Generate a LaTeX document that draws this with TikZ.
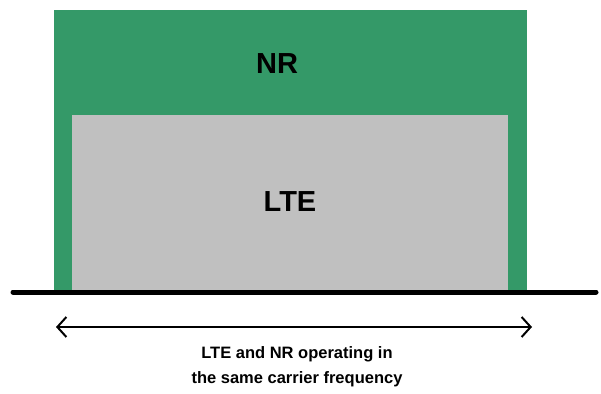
\documentclass[tikz,border=0pt]{standalone}
\usepackage{fontspec}
\setmainfont{Liberation Sans}
\usetikzlibrary{arrows.meta}
\definecolor{nrgreen}{RGB}{52,153,104}
\definecolor{ltegray}{RGB}{192,192,192}
\tikzset{
  band/.style={draw=none, inner sep=0pt, anchor=north west},
  label/.style={font=\bfseries\fontsize{29}{34}\selectfont, text=black},
  caption/.style={font=\bfseries\fontsize{16.5}{25}\selectfont, align=center, text=black},
  ground/.style={line width=5pt, line cap=round},
  span/.style={line width=2pt, {Straight Barb[length=9pt,width=20pt,line width=2pt]}-{Straight Barb[length=9pt,width=20pt,line width=2pt]}}
}
\begin{document}
\begin{tikzpicture}[x=1pt,y=-1pt]
\useasboundingbox (0,0) rectangle (601,393);
% NR carrier and the LTE carrier nested inside it
\node[band, fill=nrgreen, minimum width=473pt, minimum height=283pt] (nr) at (54,10) {};
\node[band, fill=ltegray, minimum width=436pt, minimum height=178pt] (lte) at (72,115) {};
\node[label] (nrlabel) at (277,64) {NR};
\node[label] (ltelabel) at (290,202) {LTE};
% frequency axis
\coordinate (gl) at (13,292);
\coordinate (gr) at (596,292);
\draw[ground] (gl) -- (gr);
% shared bandwidth arrow
\coordinate (al) at (56,327);
\coordinate (ar) at (532,327);
\draw[span] (al) -- (ar);
\node[caption] (cap) at (297,367) {LTE and NR operating in\\the same carrier frequency};
\end{tikzpicture}
\end{document}
